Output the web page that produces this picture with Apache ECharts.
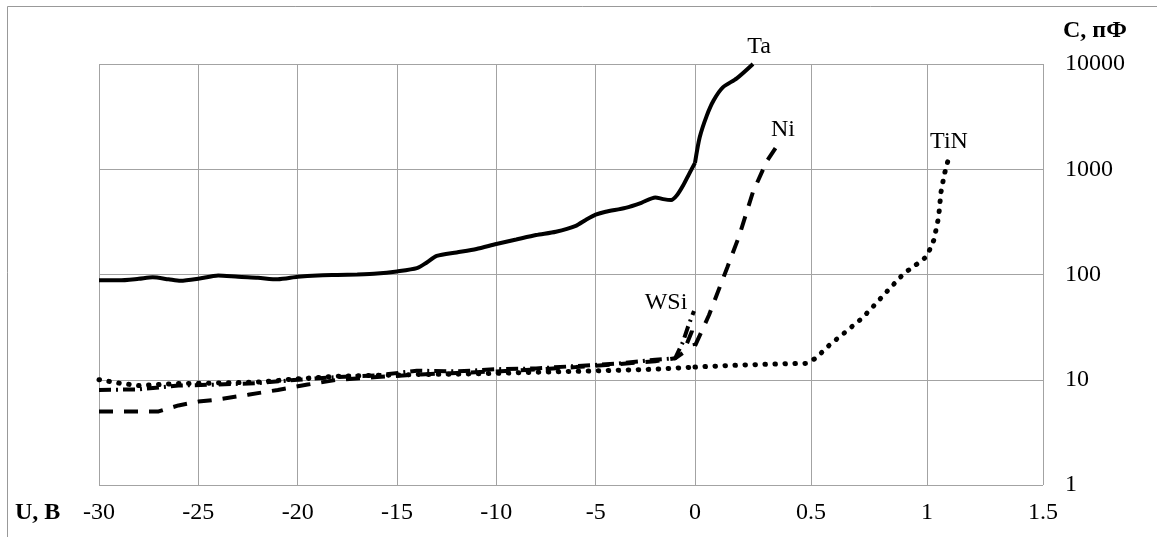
<!DOCTYPE html>
<html>
<head>
<meta charset="utf-8">
<script src="https://cdn.jsdelivr.net/npm/echarts@6/dist/echarts.min.js"></script>
<style>html,body{margin:0;padding:0;background:#fff;}#c{width:1157px;height:537px;}</style>
</head>
<body>
<div id="c"></div>
<script>
// U (V) in the negative segment [-30, 0] and positive segment [0, 1.5]; C (pF)
const taNeg = [[-30,88],[-29,88],[-28,91],[-27.3,94],[-26.5,90],[-25.9,87],[-25,91],[-24,98],[-23,95],[-22,93],[-21,90],[-20,95],[-19,98],[-18,99],[-17,100],[-16,102],[-15,107],[-14,115],[-13.5,130],[-13,150],[-12,162],[-11,175],[-10,195],[-9,215],[-8,237],[-7,255],[-6,290],[-5.5,330],[-5,370],[-4.5,395],[-3.5,430],[-2.7,480],[-2,540],[-1.6,520],[-1.2,510],[-0.9,570],[-0.6,700],[-0.3,900],[0,1150]];
const taPos = [[0,1150],[0.02,2000],[0.05,3200],[0.08,4500],[0.12,6000],[0.18,7300],[0.25,10000]];
const niNeg = [[-30,5.0],[-27,5.0],[-26,5.7],[-25,6.2],[-24,6.5],[-22.5,7.2],[-21,8.0],[-19.5,9.0],[-18,10.0],[-16,10.6],[-14,11.2],[-12,11.6],[-10,12.0],[-8,12.5],[-6,13.2],[-4,14],[-2,15],[-1,16],[-0.6,18],[-0.15,29],[0,21]];
const niPos = [[0,21],[0.06,41],[0.14,118],[0.19,231],[0.25,610],[0.31,1200],[0.36,1750]];
const wsiNeg = [[-30,8.0],[-28,8.1],[-26,8.8],[-24,9.0],[-22,9.3],[-20,10.0],[-18,10.6],[-16,11.0],[-14,12.2],[-12,12.0],[-10,12.6],[-8,12.8],[-6,13.5],[-4,14.2],[-2,15.5],[-1,16],[-0.6,23],[-0.35,32],[-0.05,45]];
const tinNeg = [[-30,10],[-29,9.3],[-28,8.8],[-26,9.2],[-24,9.3],[-22,9.5],[-20,10.2],[-18,10.8],[-16,11.0],[-14,11.2],[-12,11.3],[-10,11.5],[-8,11.8],[-6,12.0],[-4,12.3],[-2,12.6],[0,13.2]];
const tinPos = [[0,13.2],[0.1,13.5],[0.2,13.8],[0.3,14.0],[0.4,14.2],[0.48,14.3],[0.52,16],[0.58,21.4],[0.65,28.6],[0.72,38.4],[0.78,53],[0.84,74],[0.9,102],[0.98,137],[1.0,150],[1.03,214],[1.05,350],[1.06,600],[1.075,900],[1.09,1200]];
const seriesNames = ['Ta','Ni','WSi','TiN'];
const yAxisTitle = 'C, пФ';
const xAxisTitle = 'U, B';

const FONT = "'Liberation Serif','Times New Roman',serif";
const GRID = '#a3a3a3';
const chart = echarts.init(document.getElementById('c'), null, {renderer:'canvas'});

const xBase = {
  type:'value', axisLine:{show:false}, axisTick:{show:false},
  splitLine:{show:true, lineStyle:{color:GRID, width:1}},
  axisLabel:{color:'#000', fontFamily:FONT, fontSize:24, margin:16}
};
const yBase = {
  type:'log', logBase:10, min:1, max:10000,
  axisLine:{show:false}, axisTick:{show:false},
  splitLine:{show:true, lineStyle:{color:GRID, width:1}},
  minorSplitLine:{show:false}
};
const solid = {color:'#000', width:4};
const dashed = {color:'#000', width:4, type:[14,11]};
const dashDot = {color:'#000', width:4, type:[12,5,2,5]};
const dotted = {color:'#000', width:5, type:[0.5,9.5], cap:'round'};
function s(name, data, xi, ls, smooth){
  return {name, type:'line', data, xAxisIndex:xi, yAxisIndex:xi, showSymbol:false, symbol:'none',
    smooth: smooth||false, lineStyle:ls, silent:true, animation:false, z:3};
}
chart.setOption({
  animation:false,
  backgroundColor:'#fff',
  grid:[
    {left:99, top:64, width:596, height:421},
    {left:695, top:64, width:348, height:421}
  ],
  xAxis:[
    Object.assign({}, xBase, {gridIndex:0, min:-30, max:0, interval:5}),
    Object.assign({}, xBase, {gridIndex:1, min:0, max:1.5, interval:0.5,
      axisLabel:Object.assign({}, xBase.axisLabel, {showMinLabel:false})})
  ],
  yAxis:[
    Object.assign({}, yBase, {gridIndex:0, axisLabel:{show:false}}),
    Object.assign({}, yBase, {gridIndex:1, position:'right',
      axisLabel:{color:'#000', fontFamily:FONT, fontSize:24, margin:22, align:'left',
        formatter:function(v){ return String(Math.round(v)); }}})
  ],
  series:[
    s('Ta', taNeg, 0, solid, 0.25),
    s('Ta', taPos, 1, solid, 0.25),
    s('Ni', niNeg, 0, dashed),
    s('Ni', niPos, 1, dashed),
    s('WSi', wsiNeg, 0, dashDot),
    s('TiN', tinNeg, 0, dotted),
    s('TiN', tinPos, 1, dotted)
  ],
  graphic:[
    {type:'rect', shape:{x:7.5, y:6.5, width:1300, height:700}, style:{fill:'none', stroke:'#999', lineWidth:1}, silent:true, z:-10},
    {type:'text', x:1063, y:31, style:{text:yAxisTitle, font:"bold 24px "+FONT, fill:'#000', verticalAlign:'middle', align:'left'}},
    {type:'text', x:15, y:513, style:{text:xAxisTitle, font:"bold 24px "+FONT, fill:'#000', verticalAlign:'middle', align:'left'}},
    {type:'text', x:759, y:47, style:{text:seriesNames[0], font:"24px "+FONT, fill:'#000', verticalAlign:'middle', align:'center'}},
    {type:'text', x:783, y:130, style:{text:seriesNames[1], font:"24px "+FONT, fill:'#000', verticalAlign:'middle', align:'center'}},
    {type:'text', x:666, y:303, style:{text:seriesNames[2], font:"24px "+FONT, fill:'#000', verticalAlign:'middle', align:'center'}},
    {type:'text', x:949, y:142, style:{text:seriesNames[3], font:"24px "+FONT, fill:'#000', verticalAlign:'middle', align:'center'}}
  ]
});
</script>
</body>
</html>
